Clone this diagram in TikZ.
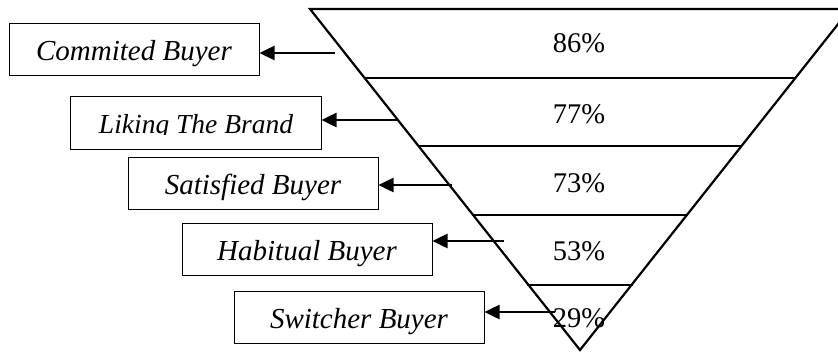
\documentclass[tikz,border=0pt]{standalone}
\usepackage{fontspec}
\setmainfont{Liberation Serif}
\usetikzlibrary{arrows.meta}
\tikzset{
  lab/.style={draw=black, line width=1pt, minimum width=250pt, minimum height=52pt,
    inner sep=0pt, text height=22pt, text depth=0pt,
    font=\fontsize{29}{31}\selectfont\itshape},
  pct/.style={anchor=base, inner sep=0pt, font=\fontsize{28.5}{30}\selectfont},
  funnel/.style={line width=2.2pt, line join=miter},
  arr/.style={line width=2.5pt, -{Triangle[length=15pt,width=14pt]}}
}
\begin{document}
\begin{tikzpicture}[x=1pt,y=-1pt]
\useasboundingbox (0,0) rectangle (838,351);
\clip (0,0) rectangle (838,351);
% funnel
\coordinate (tl) at (310,9);
\coordinate (tr) at (850,9);
\coordinate (ap) at (580,350);
\draw[funnel] (tl) -- (tr) -- (ap) -- cycle;
\draw[funnel] (365,78) -- (796,78);
\draw[funnel] (418,146) -- (742,146);
\draw[funnel] (472,215) -- (688,215);
\draw[funnel] (527,285) -- (633,285);
% percentages
\node[pct] (p1) at (579,52) {86\%};
\node[pct] (p2) at (579,123) {77\%};
\node[pct] (p3) at (579,192) {73\%};
\node[pct] (p4) at (579,260) {53\%};
\node[pct] (p5) at (579,327) {29\%};
% label boxes
\node[lab] (b1) at (134,49.5) {Commited Buyer};
\begin{scope}
\clip (50,90) rectangle (340,134);
\node[lab, draw=none, font=\fontsize{27.5}{30}\selectfont\itshape] (b2) at (196,122.5) {Liking The Brand};
\end{scope}
\draw[line width=1pt] (b2.north west) rectangle (b2.south east);
\node[lab] (b3) at (253,183.5) {Satisfied Buyer};
\node[lab] (b4) at (307,249.5) {Habitual Buyer};
\node[lab] (b5) at (359,317) {Switcher Buyer};
% arrows
\coordinate (s1) at (335,53);
\coordinate (s2) at (397,120);
\coordinate (s3) at (452,185);
\coordinate (s4) at (504,241);
\coordinate (s5) at (555,312);
\draw[arr] (s1) -- (s1 -| b1.east);
\draw[arr] (s2) -- (s2 -| b2.east);
\draw[arr] (s3) -- (s3 -| b3.east);
\draw[arr] (s4) -- (s4 -| b4.east);
\draw[arr] (s5) -- (s5 -| b5.east);
\end{tikzpicture}
\end{document}
